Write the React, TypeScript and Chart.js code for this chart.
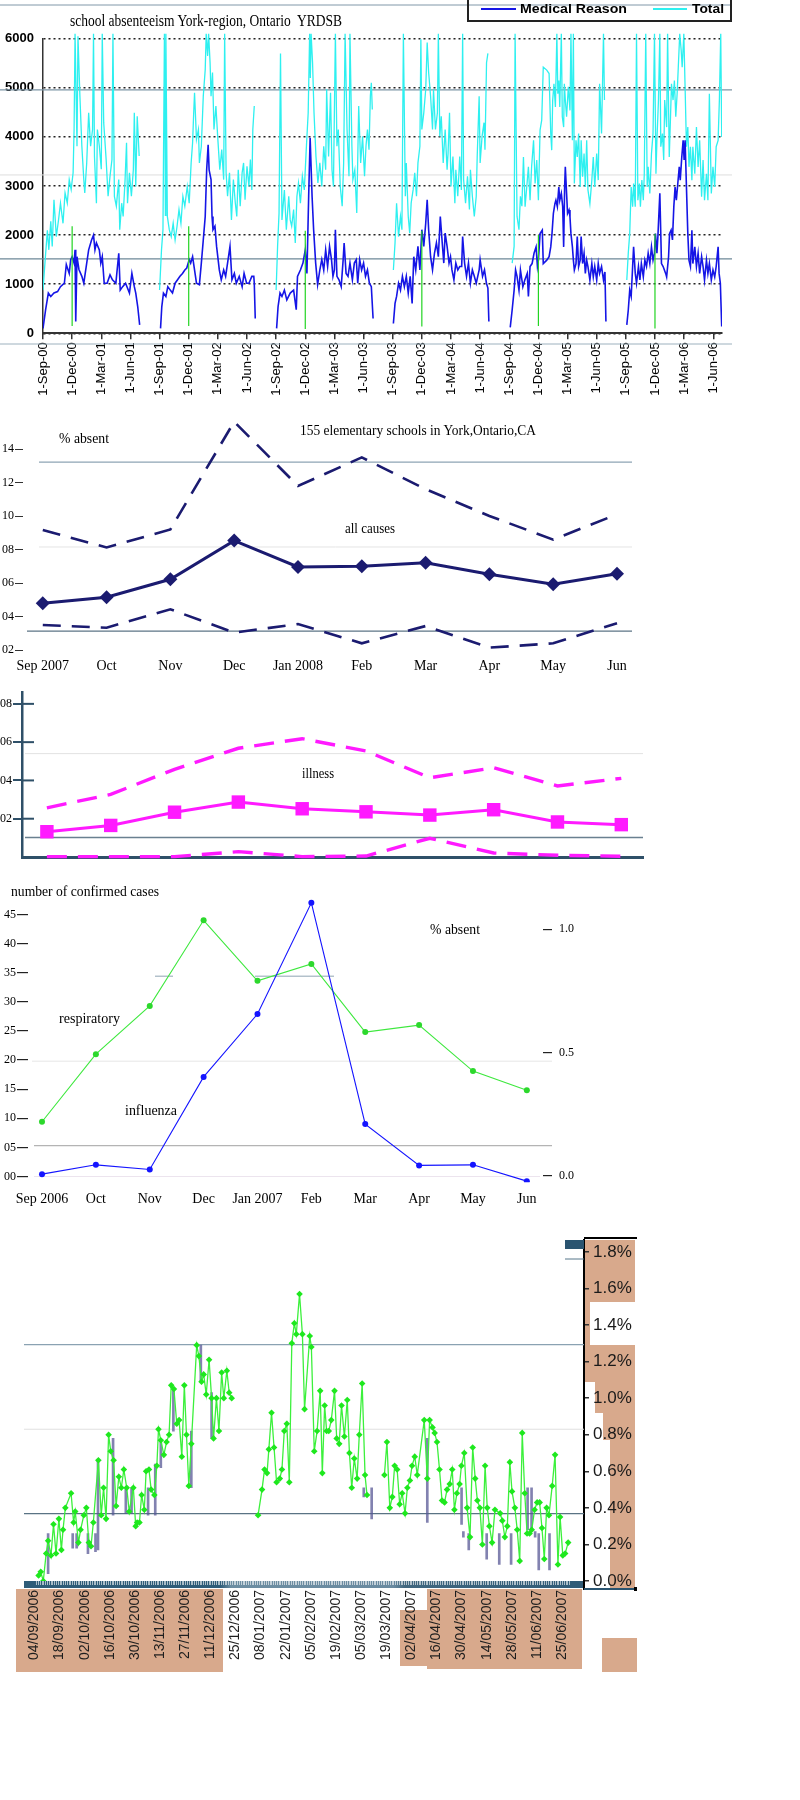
import { useEffect, useLayoutEffect, useRef } from "react"
import { Chart, registerables } from "chart.js"
import type { ChartConfiguration, Plugin } from "chart.js"

Chart.register(...registerables)

const SANS = "'Liberation Sans', Arial, sans-serif"
const SERIF = "'Liberation Serif', 'Times New Roman', serif"

// ---------- chart 1: daily absentee counts, x = months since 1 Sep 2000
const quarterLabels = [
  "1-Sep-00", "1-Dec-00", "1-Mar-01", "1-Jun-01", "1-Sep-01", "1-Dec-01", "1-Mar-02", "1-Jun-02",
  "1-Sep-02", "1-Dec-02", "1-Mar-03", "1-Jun-03", "1-Sep-03", "1-Dec-03", "1-Mar-04", "1-Jun-04",
  "1-Sep-04", "1-Dec-04", "1-Mar-05", "1-Jun-05", "1-Sep-05", "1-Dec-05", "1-Mar-06", "1-Jun-06",
]

const medical0001: [number, number][] = [
  [0, 100], [0.27, 480], [0.55, 820], [0.8, 750], [1.13, 820], [1.5, 850], [1.8, 950], [2.2, 1020], [2.4, 1400],
  [2.7, 1220], [2.85, 1500], [3.0, 1560], [3.2, 1430], [3.3, 1700], [3.37, 240], [3.5, 1560], [3.7, 1300], [4.0, 1160],
  [4.2, 1020], [4.5, 1430], [4.7, 1700], [5.0, 1900], [5.2, 2000], [5.35, 1700], [5.5, 1840], [5.8, 1700], [5.95, 1430],
  [6.1, 1560], [6.3, 1020], [6.6, 1020], [6.9, 1190], [7.15, 1090], [7.5, 1020], [7.8, 1630], [7.95, 880], [8.2, 950],
  [8.5, 1020], [8.9, 820], [9.15, 1220], [9.4, 950], [9.55, 820], [9.75, 545], [9.95, 170],
]
const total0001: [number, number][] = [
  [0, 880], [0.2, 1430], [0.45, 2100], [0.6, 1700], [0.8, 2280], [0.95, 1770], [1.13, 2720], [1.37, 1970], [1.6, 2310],
  [1.8, 2650], [2.06, 2240], [2.27, 2860], [2.5, 2650], [2.7, 3130], [2.9, 2930], [3.1, 3270], [3.2, 4150], [3.3, 6100],
  [3.5, 3810], [3.6, 6050], [3.8, 4830], [4.0, 3810], [4.2, 3130], [4.3, 2860], [4.5, 3470], [4.7, 4490], [4.9, 3810],
  [5.1, 4150], [5.2, 6100], [5.3, 3600], [5.5, 2650], [5.6, 4150], [5.8, 3810], [6.0, 3340], [6.1, 6100], [6.25, 4290],
  [6.5, 3540], [6.7, 2790], [6.9, 3200], [7.1, 3540], [7.2, 6100], [7.35, 2790], [7.55, 2590], [7.8, 3130], [7.9, 2110],
  [8.1, 2650], [8.25, 2380], [8.45, 3130], [8.6, 3880], [8.7, 2650], [8.9, 3270], [9.1, 2790], [9.3, 3330], [9.4, 4490],
  [9.55, 2990], [9.7, 4420], [9.9, 3610],
]
const medical0102: [number, number][] = [
  [12.1, 100], [12.23, 545], [12.4, 820], [12.65, 750], [12.85, 950], [13.1, 880], [13.33, 820], [13.6, 1020],
  [13.85, 1090], [14.1, 1160], [14.36, 1220], [14.6, 1290], [14.8, 1330], [15.05, 1500], [15.2, 1430], [15.4, 1560],
  [15.6, 1290], [15.8, 1020], [16.1, 990], [16.3, 1430], [16.5, 1900], [16.7, 2380], [16.85, 3330], [17.0, 3840],
  [17.1, 3330], [17.3, 3130], [17.4, 2380], [17.5, 2110], [17.7, 2180], [17.87, 1770], [18.15, 1290], [18.35, 1090],
  [18.6, 1290], [18.8, 1160], [19.0, 1430], [19.25, 1770], [19.45, 1090], [19.7, 1220], [19.9, 1020], [20.2, 1160],
  [20.5, 950], [20.7, 1220], [20.96, 1020], [21.2, 1020], [21.5, 1160], [21.7, 1160], [21.75, 1020], [21.85, 300],
]
const total0102: [number, number][] = [
  [12.0, 880], [12.2, 1700], [12.35, 2110], [12.5, 6100], [12.6, 2400], [12.65, 6100], [12.8, 2380], [13.0, 2110],
  [13.2, 1970], [13.4, 2240], [13.6, 1900], [13.8, 2180], [14.0, 2520], [14.2, 2240], [14.4, 2790], [14.6, 2590],
  [14.85, 2990], [15.05, 2650], [15.25, 3470], [15.4, 3880], [15.5, 4420], [15.6, 4900], [15.8, 3950], [16.0, 4150],
  [16.1, 3470], [16.3, 3810], [16.5, 4830], [16.7, 5370], [16.8, 6100], [16.95, 5650], [17.05, 6100], [17.2, 5510],
  [17.3, 4830], [17.45, 5310], [17.6, 4150], [17.8, 4630], [18.0, 3950], [18.2, 3330], [18.4, 3740], [18.6, 3130],
  [18.7, 6100], [18.85, 3270], [19.0, 2790], [19.2, 3270], [19.4, 2310], [19.6, 3130], [19.8, 2650], [19.95, 2380],
  [20.1, 3330], [20.3, 2590], [20.5, 3270], [20.65, 3470], [20.8, 2720], [21.0, 3400], [21.2, 2990], [21.35, 3540],
  [21.5, 2920], [21.6, 4150], [21.75, 4630],
]
const medical0203: [number, number][] = [
  [24.05, 100], [24.2, 545], [24.4, 820], [24.6, 750], [24.85, 880], [25.1, 680], [25.45, 820], [25.8, 880],
  [26.07, 480], [26.2, 1160], [26.5, 1290], [26.76, 1430], [27.0, 1700], [27.17, 1220], [27.35, 2790], [27.5, 3980],
  [27.7, 2790], [27.86, 2110], [28.07, 1430], [28.27, 990], [28.5, 1290], [28.7, 1500], [28.9, 1290], [29.1, 1700],
  [29.3, 1360], [29.5, 1770], [29.7, 1500], [29.85, 1160], [30.0, 1290], [30.1, 2110], [30.26, 1160], [30.47, 1090],
  [30.7, 950], [30.9, 1500], [31.0, 1840], [31.2, 1220], [31.4, 1160], [31.6, 1430], [31.85, 1090], [32.05, 1430],
  [32.25, 1500], [32.4, 1020], [32.6, 1500], [32.8, 1290], [33.0, 1430], [33.2, 1160], [33.4, 1290], [33.6, 1020],
  [33.8, 950], [33.98, 300],
]
const total0203: [number, number][] = [
  [24.0, 880], [24.15, 1770], [24.3, 2450], [24.45, 5700], [24.6, 2310], [24.85, 2920], [25.05, 2110], [25.3, 2790],
  [25.45, 2310], [25.6, 2180], [25.8, 2520], [25.97, 1840], [26.14, 2790], [26.3, 3060], [26.5, 2650], [26.7, 3200],
  [26.9, 2920], [27.1, 3740], [27.3, 4490], [27.45, 6100], [27.52, 5200], [27.6, 6100], [27.75, 5510], [27.9, 4490],
  [28.1, 3600], [28.3, 3060], [28.5, 3470], [28.7, 2990], [28.9, 3810], [29.1, 3330], [29.2, 4970], [29.4, 3600],
  [29.6, 4900], [29.75, 3330], [29.9, 2990], [30.1, 6100], [30.26, 3810], [30.4, 4150], [30.6, 2990], [30.8, 2590],
  [30.95, 3470], [31.1, 6100], [31.3, 4150], [31.5, 3200], [31.6, 6100], [31.8, 3810], [31.9, 3130], [32.1, 3330],
  [32.3, 2450], [32.5, 4630], [32.7, 3470], [32.9, 4010], [33.1, 3200], [33.25, 3810], [33.4, 4150], [33.56, 3740],
  [33.7, 4830], [33.8, 5100], [33.9, 4560],
]
const medical0304: [number, number][] = [
  [36.07, 200], [36.24, 610], [36.4, 750], [36.6, 1020], [36.8, 880], [37.0, 1160], [37.2, 950], [37.4, 1160],
  [37.6, 820], [37.8, 1160], [38.0, 610], [38.17, 1560], [38.37, 1290], [38.6, 1770], [38.8, 1290], [39.0, 2110],
  [39.2, 1770], [39.4, 2240], [39.55, 2720], [39.7, 2110], [39.9, 1560], [40.1, 1290], [40.3, 1630], [40.5, 1840],
  [40.7, 1560], [40.9, 2380], [41.1, 1840], [41.26, 1430], [41.4, 2040], [41.6, 1770], [41.8, 1430], [41.95, 1560],
  [42.1, 1290], [42.3, 1090], [42.5, 1430], [42.7, 1290], [42.9, 1360], [43.1, 1360], [43.2, 1970], [43.4, 1430],
  [43.6, 1160], [43.8, 1430], [44.0, 1020], [44.2, 1290], [44.4, 1160], [44.6, 1020], [44.9, 1290], [45.0, 1500],
  [45.25, 1160], [45.45, 1290], [45.65, 1020], [45.8, 920], [45.9, 240],
]
const total0304: [number, number][] = [
  [36.07, 1290], [36.24, 1840], [36.4, 2650], [36.6, 1970], [36.8, 2380], [36.95, 2110], [37.1, 6100], [37.3, 2790],
  [37.4, 3470], [37.6, 2380], [37.75, 2040], [37.9, 2650], [38.1, 2920], [38.27, 3270], [38.45, 2790], [38.6, 3470],
  [38.8, 3810], [38.9, 5990], [39.0, 4150], [39.2, 4490], [39.4, 4970], [39.55, 5920], [39.7, 5310], [39.9, 4830],
  [40.1, 4150], [40.2, 4970], [40.4, 4150], [40.6, 4490], [40.7, 6100], [40.85, 4010], [41.0, 4420], [41.2, 3470],
  [41.4, 4150], [41.6, 3330], [41.7, 3670], [41.85, 4490], [42.0, 2990], [42.2, 3600], [42.4, 2650], [42.5, 3330],
  [42.7, 2790], [42.9, 3600], [43.07, 2920], [43.2, 6100], [43.3, 3130], [43.5, 2650], [43.7, 3200], [43.9, 2520],
  [44.0, 3330], [44.2, 2790], [44.4, 2380], [44.6, 2790], [44.7, 3600], [44.9, 4830], [45.0, 3470], [45.2, 4010],
  [45.4, 4290], [45.5, 3740], [45.66, 5510], [45.8, 5700],
]
const medical0405: [number, number][] = [
  [48.1, 120], [48.3, 480], [48.5, 880], [48.65, 1290], [48.8, 1160], [49.0, 880], [49.15, 1290], [49.3, 1090],
  [49.4, 950], [49.6, 1085], [49.85, 1220], [49.97, 750], [50.14, 1360], [50.35, 1420], [50.55, 1630], [50.76, 1760],
  [50.9, 1360], [51.0, 1490], [51.17, 2030], [51.4, 2100], [51.5, 1420], [51.86, 1490], [52.1, 1560], [52.27, 1760],
  [52.4, 2030], [52.54, 2440], [52.7, 2640], [52.8, 2710], [52.95, 2580], [53.1, 2980], [53.2, 2710], [53.36, 2850],
  [53.5, 2580], [53.6, 1760], [53.7, 2980], [53.77, 3390], [53.9, 2850], [54.0, 2440], [54.15, 2510], [54.25, 2370],
  [54.35, 2030], [54.5, 1760], [54.6, 1490], [54.7, 1290], [54.87, 1420], [55.0, 1970], [55.14, 1360], [55.3, 1490],
  [55.4, 1970], [55.55, 1420], [55.7, 1630], [55.83, 1220], [55.97, 1490], [56.1, 1360], [56.3, 1085], [56.5, 1420],
  [56.65, 1150], [56.8, 1360], [57.0, 1085], [57.16, 1420], [57.3, 1220], [57.5, 1360], [57.7, 1085], [57.85, 1250],
  [57.95, 240],
]
const total0405: [number, number][] = [
  [48.3, 1430], [48.5, 1770], [48.6, 6100], [48.8, 2380], [49.0, 2110], [49.15, 2790], [49.3, 2590], [49.46, 3590],
  [49.63, 2580], [49.8, 2980], [49.97, 3390], [50.14, 2710], [50.3, 3390], [50.5, 3930], [50.66, 3050], [50.83, 3530],
  [51.0, 2710], [51.17, 4140], [51.34, 4340], [51.5, 5420], [51.86, 5360], [52.1, 5290], [52.27, 4070], [52.37, 3730],
  [52.47, 4750], [52.6, 5080], [52.75, 4610], [52.9, 6100], [53.0, 4880], [53.1, 5150], [53.2, 4610], [53.36, 6100],
  [53.46, 4410], [53.6, 4200], [53.67, 5080], [53.77, 4750], [53.9, 4410], [54.08, 5020], [54.25, 4540], [54.35, 6100],
  [54.5, 3930], [54.6, 6100], [54.7, 3050], [54.87, 3930], [55.0, 3590], [55.14, 4070], [55.3, 2980], [55.4, 3930],
  [55.55, 3190], [55.7, 3660], [55.83, 2980], [55.97, 3930], [56.1, 2920], [56.3, 2640], [56.5, 3120], [56.65, 3590],
  [56.8, 2980], [57.0, 3660], [57.16, 3120], [57.3, 5080], [57.5, 4070], [57.7, 6100], [57.8, 4750],
]
const medical0506: [number, number][] = [
  [60.1, 170], [60.25, 470], [60.4, 880], [60.55, 750], [60.7, 1360], [60.8, 1760], [60.97, 1220], [61.1, 1020],
  [61.3, 1360], [61.45, 1085], [61.6, 1420], [61.8, 1150], [61.96, 1490], [62.13, 1360], [62.3, 1630], [62.47, 1420],
  [62.64, 1760], [62.8, 1490], [62.95, 1630], [63.05, 2030], [63.2, 1630], [63.3, 1970], [63.5, 2850], [63.67, 1420],
  [63.84, 1360], [64.1, 1220], [64.2, 1150], [64.4, 1560], [64.5, 2030], [64.66, 2100], [64.8, 1900], [64.94, 2580],
  [65.07, 2980], [65.2, 2710], [65.35, 3050], [65.5, 3390], [65.6, 3120], [65.76, 3590], [65.9, 3930], [66.0, 3530],
  [66.1, 3930], [66.24, 2980], [66.38, 2030], [66.5, 1490], [66.65, 1360], [66.8, 2100], [66.9, 1420], [67.1, 1760],
  [67.27, 1360], [67.44, 1630], [67.6, 1220], [67.8, 1560], [67.95, 1360], [68.1, 1085], [68.3, 1490], [68.45, 1220],
  [68.6, 1420], [68.8, 1085], [68.97, 1290], [69.15, 1150], [69.3, 1360], [69.5, 1760], [69.6, 1220], [69.73, 1020],
  [69.87, 140],
]
const total0506: [number, number][] = [
  [60.1, 1085], [60.25, 1630], [60.4, 2030], [60.55, 2980], [60.7, 2580], [60.8, 3050], [60.97, 2580], [61.1, 6100],
  [61.24, 2710], [61.4, 3050], [61.5, 2580], [61.65, 3120], [61.8, 2710], [61.9, 3250], [62.05, 6100], [62.2, 2980],
  [62.3, 3390], [62.47, 2850], [62.64, 3660], [62.8, 4070], [62.95, 6100], [63.1, 3250], [63.2, 3930], [63.36, 4750],
  [63.5, 6100], [63.6, 3800], [63.77, 4070], [63.9, 3530], [64.0, 4750], [64.2, 4200], [64.3, 6100], [64.47, 3590],
  [64.6, 4410], [64.7, 5080], [64.86, 4750], [65.0, 5150], [65.14, 4410], [65.28, 4880], [65.4, 5420], [65.55, 6100],
  [65.7, 5760], [65.8, 5420], [65.97, 6100], [66.1, 5020], [66.24, 3800], [66.38, 4200], [66.5, 3390], [66.65, 3800],
  [66.8, 3120], [66.9, 3800], [67.1, 3250], [67.27, 4200], [67.44, 3390], [67.6, 3930], [67.8, 2780], [67.95, 3530],
  [68.1, 2710], [68.3, 3250], [68.45, 2710], [68.6, 4880], [68.8, 2850], [68.97, 3390], [69.15, 2980], [69.3, 3800],
  [69.5, 3930], [69.63, 4750], [69.77, 6100], [69.87, 4000],
]
const decFirstMonths = [3, 15, 27, 39, 51, 63]
const decMarkerTop = [2180, 2180, 2090, 2090, 2000, 2030]
const decMarkerBottom = [150, 150, 90, 140, 150, 100]

// ---------- charts 2 and 3: 155 elementary schools, 2007-08
const months0708 = ["Sep 2007", "Oct", "Nov", "Dec", "Jan 2008", "Feb", "Mar", "Apr", "May", "Jun"]
const allCauses = [4.79, 5.15, 6.22, 8.53, 6.96, 7.0, 7.21, 6.52, 5.92, 6.55]
const allCausesHigh = [9.16, 8.12, 9.2, 15.63, 11.79, 13.5, 11.6, 10.0, 8.59, 10.1]
const allCausesLow = [3.49, 3.33, 4.43, 3.04, 3.55, 2.4, 3.43, 2.14, 2.4, 3.6]
const illness = [1.32, 1.65, 2.34, 2.87, 2.52, 2.36, 2.19, 2.47, 1.83, 1.69]
const illnessHigh = [2.57, 3.27, 4.58, 5.68, 6.18, 5.54, 4.14, 4.66, 3.71, 4.11]
const illnessLow = [0.02, 0.02, 0.02, 0.28, 0.02, 0.05, 0.98, 0.21, 0.09, 0.04]

// ---------- chart 4: confirmed cases 2006-07
const months0607 = ["Sep 2006", "Oct", "Nov", "Dec", "Jan 2007", "Feb", "Mar", "Apr", "May", "Jun"]
const respiratory = [9.4, 21.0, 29.3, 44.0, 33.6, 36.5, 24.8, 26.0, 18.1, 14.8]
const influenza = [0.4, 2.0, 1.2, 17.1, 27.9, 47.0, 9.0, 1.9, 2.0, -0.8]

// ---------- chart 5: daily % absent, x = days since 04/09/2006
const dateLabels = [
  "04/09/2006", "18/09/2006", "02/10/2006", "16/10/2006", "30/10/2006", "13/11/2006", "27/11/2006", "11/12/2006",
  "25/12/2006", "08/01/2007", "22/01/2007", "05/02/2007", "19/02/2007", "05/03/2007", "19/03/2007", "02/04/2007",
  "16/04/2007", "30/04/2007", "14/05/2007", "28/05/2007", "11/06/2007", "25/06/2007",
]
const fallTerm: [number, number][] = [
  [2.3, 0.03], [3.5, 0.05], [4.9, 0.0], [6.5, 0.15], [7.6, 0.22], [9.2, 0.14], [10.6, 0.31], [12, 0.15], [13.6, 0.34],
  [15, 0.17], [15.9, 0.28], [17.2, 0.4], [20.4, 0.48], [21.8, 0.32], [22.7, 0.38], [24.5, 0.21], [25.7, 0.28],
  [27.5, 0.36], [28.9, 0.4], [30.3, 0.21], [31.5, 0.19], [32.8, 0.32], [35.6, 0.66], [37.2, 0.36], [38.5, 0.51],
  [39.9, 0.34], [41.3, 0.8], [42.5, 0.71], [44.1, 0.66], [45.5, 0.41], [47, 0.57], [48.4, 0.51], [49.8, 0.61],
  [51.4, 0.51], [52.8, 0.38], [55.1, 0.51], [56.4, 0.3], [57.2, 0.32], [58.5, 0.32], [59.7, 0.47], [61.2, 0.39],
  [62.2, 0.6], [63.8, 0.61], [65, 0.5], [66.8, 0.47], [68.2, 0.63], [69.1, 0.83], [70.4, 0.77], [72.1, 0.69],
  [73.6, 0.76], [75, 0.8], [76.2, 1.07], [77.7, 1.05], [79.3, 0.86], [80.6, 0.88], [82.1, 0.68], [83.5, 1.07],
  [84.7, 0.8], [86, 0.52], [87.4, 0.75], [90.4, 1.29], [91.6, 1.23], [93.1, 1.09], [94.3, 1.13], [95.7, 1.02],
  [97.3, 1.21], [98.7, 1.0], [99.8, 0.78], [101.4, 1.0], [102.8, 0.82], [104.3, 1.14], [105.5, 1.0], [107.2, 1.15],
  [108.5, 1.03], [109.9, 1.0],
]
const winterTerm: [number, number][] = [
  [124.6, 0.36], [126.8, 0.5], [128.2, 0.61], [129.6, 0.59], [130.6, 0.72], [132.1, 0.92], [133.5, 0.73],
  [134.9, 0.54], [136.7, 0.56], [137.9, 0.61], [139.2, 0.82], [140.6, 0.86], [142, 0.54], [143.4, 1.3], [144.8, 1.41],
  [145.9, 1.35], [147.7, 1.57], [149.3, 1.35], [150.5, 0.94], [153.4, 1.34], [154.3, 1.28], [155.9, 0.71],
  [157.5, 0.82], [159.2, 1.04], [160.4, 0.59], [161.7, 0.96], [162.8, 0.82], [164, 0.82], [165.4, 0.88],
  [167.2, 1.04], [168.4, 0.78], [169.8, 0.75], [171.1, 0.96], [172.7, 0.79], [174.3, 0.99], [175.5, 0.7],
  [176.8, 0.51], [178.2, 0.67], [179.8, 0.56], [181, 0.8], [182.6, 1.08], [184.2, 0.58], [185.3, 0.47],
]
const springTerm: [number, number][] = [
  [195, 0.58], [196.4, 0.76], [198, 0.4], [199.4, 0.46], [200.7, 0.63], [202.1, 0.61], [203.5, 0.42], [204.9, 0.48],
  [206.5, 0.37], [207.8, 0.51], [209.2, 0.55], [210.4, 0.63], [211.9, 0.68], [213.3, 0.58], [217.2, 0.88],
  [218.9, 0.56], [220.2, 0.88], [221.8, 0.84], [223, 0.81], [224.3, 0.76], [225.7, 0.61], [227.1, 0.44],
  [228.5, 0.43], [229.9, 0.5], [231.4, 0.53], [232.8, 0.61], [234, 0.39], [235.4, 0.48], [236.9, 0.53],
  [237.9, 0.63], [239.5, 0.7], [241.1, 0.4], [242.7, 0.24], [244.2, 0.73], [245.6, 0.56], [246.8, 0.44],
  [248.2, 0.4], [249.6, 0.2], [251.1, 0.63], [252.3, 0.4], [253.5, 0.3], [255, 0.21], [256.6, 0.39], [259.5, 0.37],
  [260.7, 0.33], [262.1, 0.24], [263.5, 0.3], [264.9, 0.65], [266.1, 0.49], [267.7, 0.4], [269, 0.28], [270.4, 0.11],
  [271.8, 0.81], [273.2, 0.48], [274.5, 0.26], [275.9, 0.26], [277.1, 0.28], [278.7, 0.39], [280.1, 0.43],
  [281.5, 0.43], [282.8, 0.29], [284.1, 0.12], [285.4, 0.4], [286.7, 0.36], [288.5, 0.52], [290.1, 0.69],
  [291.7, 0.09], [292.9, 0.35], [294.4, 0.14], [295.7, 0.15], [297.4, 0.21],
]
// faint bars left over from another series: [day, low, high]
const otherBars: [number, number, number][] = [
  [7.6, 0.04, 0.26], [21.3, 0.18, 0.26], [23.5, 0.18, 0.26], [29.8, 0.15, 0.26], [34, 0.16, 0.26], [35.4, 0.17, 0.66],
  [43.8, 0.36, 0.78], [50.9, 0.37, 0.51], [54.1, 0.37, 0.51], [63.3, 0.36, 0.51], [67.3, 0.36, 0.64],
  [70.4, 0.62, 0.77], [77.4, 0.82, 1.06], [87.4, 0.51, 0.82], [92.7, 1.09, 1.29], [98.7, 0.78, 1.03],
  [183.5, 0.46, 0.51], [187.9, 0.34, 0.51], [218.9, 0.32, 0.78], [238, 0.31, 0.51], [239, 0.24, 0.27],
  [242, 0.17, 0.26], [252, 0.12, 0.26], [259, 0.09, 0.26], [265.6, 0.09, 0.26], [274.8, 0.28, 0.51],
  [277, 0.28, 0.51], [279, 0.24, 0.27], [281, 0.06, 0.26], [287, 0.06, 0.26],
]

const NAVY = "#1b1b70"
const MAGENTA = "#ff1aff"
const PEACH = "#d8a98c"

const joinSegments = (segments: [number, number][][]) => {
  const points: { x: number; y: number | null }[] = []
  segments.forEach((seg, i) => {
    if (i > 0) points.push({ x: seg[0][0] - 0.01, y: null })
    seg.forEach(([x, y]) => points.push({ x, y }))
  })
  return points
}
const byIndex = (values: number[]) => values.map((y, x) => ({ x, y }))

type Rule = { v?: number; py?: number; x0: number; x1: number; color: string; width?: number; axis?: string }
const rulesPlugin = (rules: Rule[]): Plugin => ({
  id: "rules",
  beforeDatasetsDraw(chart) {
    const { ctx } = chart
    ctx.save()
    rules.forEach((r) => {
      const y = r.py ?? chart.scales[r.axis ?? "y"].getPixelForValue(r.v as number)
      ctx.strokeStyle = r.color
      ctx.lineWidth = r.width ?? 1
      ctx.beginPath()
      ctx.moveTo(r.x0, y)
      ctx.lineTo(r.x1, y)
      ctx.stroke()
    })
    ctx.restore()
  },
})

const noLegend = { legend: { display: false }, tooltip: { enabled: false } }

const chart1 = (): ChartConfiguration => ({
  type: "line",
  data: {
    datasets: [
      {
        label: "1 Dec",
        data: decFirstMonths.flatMap((m, i) => [
          { x: m, y: decMarkerBottom[i] },
          { x: m, y: decMarkerTop[i] },
          { x: m + 0.01, y: null },
        ]),
        borderColor: "#22d422",
        borderWidth: 1.2,
        pointRadius: 0,
      },
      {
        label: "Medical Reason",
        data: joinSegments([medical0001, medical0102, medical0203, medical0304, medical0405, medical0506]),
        borderColor: "#1515e6",
        borderWidth: 1.6,
        pointRadius: 0,
      },
      {
        label: "Total",
        data: joinSegments([total0001, total0102, total0203, total0304, total0405, total0506]),
        borderColor: "#2ef0f0",
        borderWidth: 1.3,
        pointRadius: 0,
        clip: { left: 0, top: 6, right: 0, bottom: 0 },
      },
    ] as any,
  },
  options: {
    responsive: false,
    animation: false,
    layout: { padding: { top: 38.7, right: 78, left: 0, bottom: 0 } },
    plugins: noLegend,
    scales: {
      x: {
        type: "linear",
        min: 0,
        max: 69.9,
        afterFit: (s: any) => { s.height = 76.7 },
        afterBuildTicks: (s: any) => { s.ticks = quarterLabels.map((_, i) => ({ value: i * 3 })) },
        ticks: {
          autoSkip: false, minRotation: 90, maxRotation: 90, padding: 3, color: "#000",
          font: { family: SANS, size: 13 },
          callback: (_v: any, i: number) => quarterLabels[i],
        },
        grid: { drawOnChartArea: false, drawTicks: true, tickLength: 6, color: "#333", lineWidth: 1.5 },
        border: { display: true, color: "#333", width: 2 },
      },
      y: {
        min: 0,
        max: 6000,
        afterFit: (s: any) => { s.width = 43 },
        ticks: {
          stepSize: 1000, padding: 9, color: "#000",
          font: { family: SANS, size: 13, weight: "bold" },
          callback: (v: any) => String(v),
        },
        grid: { drawTicks: false, color: "#222", lineWidth: 1.5 },
        border: { display: true, color: "#333", width: 1.5, dash: [2, 3] },
      },
    } as any,
  },
  plugins: [
    rulesPlugin([
      { py: 5, x0: 0, x1: 732, color: "#8097a8" },
      { v: 4958, x0: 0, x1: 732, color: "#7d95a6", width: 1.3 },
      { v: 3225, x0: 0, x1: 732, color: "#dedede" },
      { v: 1514, x0: 0, x1: 732, color: "#6d8797", width: 1.3 },
      { py: 344, x0: 0, x1: 732, color: "#9db1be" },
    ]),
  ],
})

const chart2 = (): ChartConfiguration => ({
  type: "line",
  data: {
    datasets: [
      {
        label: "all causes",
        data: byIndex(allCauses),
        borderColor: NAVY,
        borderWidth: 3,
        pointStyle: "rectRot",
        pointRadius: 7,
        pointBackgroundColor: NAVY,
        pointBorderWidth: 0,
      },
      { label: "high", data: byIndex(allCausesHigh), borderColor: NAVY, borderWidth: 2.6, borderDash: [18, 11], pointRadius: 0 },
      { label: "low", data: byIndex(allCausesLow), borderColor: NAVY, borderWidth: 2.6, borderDash: [18, 11], pointRadius: 0 },
    ],
  },
  options: {
    responsive: false,
    animation: false,
    layout: { padding: { top: 15.5, right: 168, left: 0, bottom: 0 } },
    plugins: noLegend,
    scales: {
      x: {
        type: "linear",
        min: -0.31,
        max: 9.235,
        afterFit: (s: any) => { s.height = 40 },
        afterBuildTicks: (s: any) => { s.ticks = months0708.map((_, i) => ({ value: i })) },
        ticks: {
          autoSkip: false, maxRotation: 0, padding: 8, color: "#000",
          font: { family: SERIF, size: 14 },
          callback: (_v: any, i: number) => months0708[i],
        },
        grid: { display: false, drawTicks: false },
        border: { display: false },
      },
      y: {
        min: 2,
        max: 16,
        afterFit: (s: any) => { s.width = 23 },
        afterBuildTicks: (s: any) => { s.ticks = [2, 4, 6, 8, 10, 12, 14].map((v) => ({ value: v })) },
        ticks: {
          padding: 1, color: "#000", font: { family: SERIF, size: 12 },
          callback: (v: any) => String(v).padStart(2, "0"),
        },
        grid: { drawOnChartArea: false, drawTicks: true, tickLength: 8, color: "#333" },
        border: { display: false },
      },
    } as any,
  },
  plugins: [
    rulesPlugin([
      { v: 13.22, x0: 39, x1: 632, color: "#8ea4b4", width: 1.3 },
      { v: 8.15, x0: 39, x1: 632, color: "#e4e4e4" },
      { v: 3.13, x0: 27, x1: 632, color: "#5d7586", width: 1.3 },
    ]),
  ],
})

const crossTicks: Plugin = {
  id: "crossTicks",
  afterDraw(chart) {
    const { ctx, chartArea } = chart
    const y = chart.scales.y
    ctx.save()
    ctx.strokeStyle = "#2f5068"
    ctx.lineWidth = 2
    y.ticks.forEach((t) => {
      const py = y.getPixelForValue(t.value)
      ctx.beginPath()
      ctx.moveTo(chartArea.left, py)
      ctx.lineTo(chartArea.left + 12, py)
      ctx.stroke()
    })
    ctx.restore()
  },
}

const chart3 = (): ChartConfiguration => ({
  type: "line",
  data: {
    datasets: [
      {
        label: "illness",
        data: byIndex(illness),
        borderColor: MAGENTA,
        borderWidth: 3,
        pointStyle: "rect",
        pointRadius: 9.5,
        pointBackgroundColor: MAGENTA,
        pointBorderWidth: 0,
      },
      { label: "high", data: byIndex(illnessHigh), borderColor: MAGENTA, borderWidth: 3.4, borderDash: [20, 11], pointRadius: 0 },
      { label: "low", data: byIndex(illnessLow), borderColor: MAGENTA, borderWidth: 3.4, borderDash: [20, 11], pointRadius: 0, clip: false },
    ] as any,
  },
  options: {
    responsive: false,
    animation: false,
    layout: { padding: { top: 12, right: 157, left: 0, bottom: 0 } },
    plugins: noLegend,
    scales: {
      x: {
        type: "linear",
        min: -0.39,
        max: 9.34,
        afterFit: (s: any) => { s.height = 13 },
        ticks: { display: false },
        grid: { display: false, drawTicks: false },
        border: { display: true, color: "#2f5068", width: 3 },
      },
      y: {
        min: 0,
        max: 8.62,
        afterFit: (s: any) => { s.width = 22 },
        afterBuildTicks: (s: any) => { s.ticks = [2, 4, 6, 8].map((v) => ({ value: v })) },
        ticks: {
          padding: 1, color: "#000", font: { family: SERIF, size: 12 },
          callback: (v: any) => String(v).padStart(2, "0"),
        },
        grid: { drawOnChartArea: false, drawTicks: true, tickLength: 9, color: "#2f5068", lineWidth: 2 },
        border: { display: true, color: "#2f5068", width: 2.5 },
      },
    } as any,
  },
  plugins: [
    rulesPlugin([
      { v: 1.02, x0: 25, x1: 643, color: "#6a8090", width: 1.3 },
      { v: 5.4, x0: 25, x1: 643, color: "#e2e2e2" },
    ]),
    crossTicks,
  ],
})

const chart4 = (): ChartConfiguration => ({
  type: "line",
  data: {
    datasets: [
      {
        label: "influenza",
        data: byIndex(influenza),
        borderColor: "#1414ff",
        borderWidth: 1.1,
        pointRadius: 3,
        pointBackgroundColor: "#1414ff",
        pointBorderWidth: 0,
      },
      {
        label: "respiratory",
        data: byIndex(respiratory),
        borderColor: "#3ee83e",
        borderWidth: 1.1,
        pointRadius: 3,
        pointBackgroundColor: "#2cd82c",
        pointBorderWidth: 0,
      },
    ],
  },
  options: {
    responsive: false,
    animation: false,
    layout: { padding: { top: 27, right: 217, left: 0, bottom: 0 } },
    plugins: noLegend,
    scales: {
      x: {
        type: "linear",
        min: -0.26,
        max: 9.3,
        afterFit: (s: any) => { s.height = 37.7 },
        afterBuildTicks: (s: any) => { s.ticks = months0607.map((_, i) => ({ value: i })) },
        ticks: {
          autoSkip: false, maxRotation: 0, padding: 9, color: "#000",
          font: { family: SERIF, size: 14 },
          callback: (_v: any, i: number) => months0607[i],
        },
        grid: { display: false, drawTicks: false },
        border: { display: false },
      },
      y: {
        min: -1,
        max: 48,
        afterFit: (s: any) => { s.width = 28 },
        afterBuildTicks: (s: any) => { s.ticks = [0, 5, 10, 15, 20, 25, 30, 35, 40, 45].map((v) => ({ value: v })) },
        ticks: {
          padding: 1, color: "#000", font: { family: SERIF, size: 12 },
          callback: (v: any) => String(v).padStart(2, "0"),
        },
        grid: { drawOnChartArea: false, drawTicks: true, tickLength: 11, color: "#222", lineWidth: 1.2 },
        border: { display: false },
      },
      y2: {
        position: "right",
        min: -0.027,
        max: 1.131,
        afterFit: (s: any) => { s.width = 40 },
        afterBuildTicks: (s: any) => { s.ticks = [0, 0.5, 1].map((v) => ({ value: v })) },
        ticks: {
          padding: 7, color: "#000", font: { family: SERIF, size: 12 },
          callback: (v: any) => Number(v).toFixed(1),
        },
        grid: { drawOnChartArea: false, drawTicks: true, tickLength: 9, color: "#222", lineWidth: 1.2 },
        border: { display: false },
      },
    } as any,
  },
  plugins: [
    rulesPlugin([
      { v: 0, x0: 34, x1: 540, color: "#ece4ee" },
      { v: 5.3, x0: 34, x1: 552, color: "#b4b4b4", width: 1.3 },
      { v: 19.8, x0: 32, x1: 552, color: "#e6e6e6" },
      { v: 34.4, x0: 155, x1: 173, color: "#8fa4b3" },
      { v: 34.4, x0: 255, x1: 334, color: "#8fa4b3" },
    ]),
  ],
})

const axisBand: Plugin = {
  id: "axisBand",
  afterDraw(chart) {
    const { ctx, chartArea } = chart
    const x = chart.scales.x
    const b = chartArea.bottom
    ctx.save()
    const g = ctx.createLinearGradient(24, 0, 584, 0)
    g.addColorStop(0, "#2e5c78")
    g.addColorStop(0.35, "#2e5c78")
    g.addColorStop(0.37, "#6d8ea2")
    g.addColorStop(0.66, "#6a8aa0")
    g.addColorStop(0.68, "#41677f")
    g.addColorStop(1, "#2f5b77")
    ctx.fillStyle = g
    ctx.fillRect(24, b, 584 - 24, 7)
    ctx.strokeStyle = "rgba(255,255,255,0.6)"
    ctx.lineWidth = 1
    for (let d = 1; d < 299; d++) {
      const px = Math.round(x.getPixelForValue(d)) + 0.5
      ctx.beginPath()
      ctx.moveTo(px, b)
      ctx.lineTo(px, b + 4)
      ctx.stroke()
    }
    // right axis frame pieces
    ctx.strokeStyle = "#000"
    ctx.lineWidth = 2
    ctx.beginPath()
    ctx.moveTo(chartArea.right, b)
    ctx.lineTo(chartArea.right, b + 9)
    ctx.moveTo(chartArea.right, chartArea.top - 2)
    ctx.lineTo(637, chartArea.top - 2)
    ctx.stroke()
    ctx.strokeStyle = "#2a5470"
    ctx.beginPath()
    ctx.moveTo(chartArea.right, b + 8)
    ctx.lineTo(636, b + 8)
    ctx.stroke()
    ctx.fillStyle = "#000"
    ctx.fillRect(634, b + 6, 3, 4)
    ctx.fillStyle = "#2a5470"
    ctx.fillRect(565, chartArea.top, chartArea.right - 565, 9)
    ctx.strokeStyle = "#56768a"
    ctx.lineWidth = 1
    ctx.beginPath()
    ctx.moveTo(565, chartArea.top + 19)
    ctx.lineTo(chartArea.right, chartArea.top + 19)
    ctx.stroke()
    ctx.restore()
  },
}

const chart5 = (): ChartConfiguration => ({
  type: "line",
  data: {
    datasets: [
      {
        label: "% absent",
        data: joinSegments([fallTerm, winterTerm, springTerm]),
        borderColor: "#3cf03c",
        borderWidth: 1.3,
        pointStyle: "rectRot",
        pointRadius: 3.3,
        pointBackgroundColor: "#1ee81e",
        pointBorderWidth: 0,
      },
      {
        type: "bar",
        label: "other",
        data: otherBars.map(([d, lo, hi]) => ({ x: d, y: [lo, hi] })),
        backgroundColor: "rgba(88,88,150,0.75)",
        barThickness: 2,
      },
    ] as any,
  },
  options: {
    responsive: false,
    animation: false,
    layout: { padding: { top: 15, right: 156, left: 21.7, bottom: 0 } },
    plugins: noLegend,
    scales: {
      x: {
        type: "linear",
        min: 0,
        max: 299.1,
        afterFit: (s: any) => { s.height = 104 },
        afterBuildTicks: (s: any) => { s.ticks = dateLabels.map((_, i) => ({ value: i * 14 })) },
        ticks: {
          autoSkip: false, minRotation: 90, maxRotation: 90, padding: 9, color: "#1e1e1e",
          font: { family: SANS, size: 14 },
          callback: (_v: any, i: number) => dateLabels[i],
        },
        grid: { display: false, drawTicks: false },
        border: { display: false },
      },
      y: {
        position: "right",
        min: 0,
        max: 1.865,
        afterFit: (s: any) => { s.width = 60 },
        afterBuildTicks: (s: any) => {
          s.ticks = [0, 0.2, 0.4, 0.6, 0.8, 1.0, 1.2, 1.4, 1.6, 1.8].map((v) => ({ value: v }))
        },
        ticks: {
          padding: 4, color: "#1a1a1a", font: { family: SANS, size: 17 },
          callback: (v: any) => `${Number(v).toFixed(1)}%`,
        },
        grid: { drawOnChartArea: false, drawTicks: true, tickLength: 5, color: "#333", lineWidth: 1.5 },
        border: { display: true, color: "#000", width: 2 },
      },
    } as any,
  },
  plugins: [
    rulesPlugin([
      { v: 1.293, x0: 24, x1: 584, color: "#8aa2b2", width: 1.3 },
      { v: 0.83, x0: 24, x1: 584, color: "#e0e0e0" },
      { v: 0.368, x0: 24, x1: 584, color: "#5a7384", width: 1.3 },
    ]),
    axisBand,
  ],
})

function ChartCanvas({ top, height, make }: { top: number; height: number; make: () => ChartConfiguration }) {
  const ref = useRef<HTMLCanvasElement>(null)
  useEffect(() => {
    if (!ref.current) return
    const chart = new Chart(ref.current, make())
    return () => chart.destroy()
  }, [make])
  return (
    <canvas
      ref={ref}
      width={800}
      height={height}
      style={{ position: "absolute", left: 0, top, width: 800, height }}
    />
  )
}

// text squeezed to the width it has in the picture
function FitText({ x, base, w, size, text, sans = false, bold = false }: {
  x: number; base: number; w: number; size: number; text: string; sans?: boolean; bold?: boolean
}) {
  const ref = useRef<HTMLSpanElement>(null)
  useLayoutEffect(() => {
    const el = ref.current
    if (!el) return
    el.style.transform = "none"
    const natural = el.getBoundingClientRect().width
    if (natural > 0) el.style.transform = `scaleX(${w / natural})`
  }, [w, text])
  const lead = sans ? 0.85 : 0.84
  return (
    <span
      ref={ref}
      style={{
        position: "absolute",
        left: x,
        top: base - lead * size,
        fontFamily: sans ? SANS : SERIF,
        fontSize: size,
        fontWeight: bold ? 700 : 400,
        lineHeight: 1,
        whiteSpace: "pre",
        transformOrigin: "0 0",
        color: "#000",
      }}
    >
      {text}
    </span>
  )
}

const peachPatches = [
  [584, 1240, 51, 62], [584, 1302, 6, 43], [584, 1345, 51, 37], [595, 1382, 40, 31], [603, 1413, 32, 27],
  [610, 1440, 25, 149], [602, 1638, 35, 34], [16, 1589, 207, 83], [400, 1610, 27, 56], [427, 1589, 155, 80],
]

export default function App() {
  return (
    <div style={{ position: "relative", width: 800, height: 1800, background: "#fff", overflow: "hidden" }}>
      <style>{"body{margin:0}"}</style>
      {peachPatches.map(([l, t, w, h], i) => (
        <div key={i} style={{ position: "absolute", left: l, top: t, width: w, height: h, background: PEACH }} />
      ))}
      <ChartCanvas top={0} height={410} make={chart1} />
      <ChartCanvas top={400} height={290} make={chart2} />
      <ChartCanvas top={680} height={190} make={chart3} />
      <ChartCanvas top={870} height={350} make={chart4} />
      <ChartCanvas top={1225} height={460} make={chart5} />

      {/* chart 1 title and legend */}
      <FitText x={70} base={26} w={272} size={16} text="school absenteeism York-region, Ontario  YRDSB" />
      <div style={{ position: "absolute", left: 467, top: -4, width: 265, height: 26, border: "2px solid #222", boxSizing: "border-box" }} />
      <div style={{ position: "absolute", left: 481, top: 8, width: 35, height: 2, background: "#1515e6" }} />
      <FitText x={520} base={13.3} w={107} size={13} sans bold text="Medical Reason" />
      <div style={{ position: "absolute", left: 653, top: 8, width: 34, height: 1.5, background: "#2ef0f0" }} />
      <FitText x={692} base={13.3} w={32} size={13} sans bold text="Total" />

      {/* chart 2 */}
      <FitText x={59} base={443.3} w={50} size={15} text="% absent" />
      <FitText x={300} base={436} w={236} size={14} text="155 elementary schools in York,Ontario,CA" />
      <FitText x={345} base={534} w={50} size={14} text="all causes" />

      {/* chart 3 */}
      <FitText x={302} base={778.3} w={32} size={14} text="illness" />

      {/* chart 4 */}
      <FitText x={11} base={896.7} w={148} size={14} text="number of confirmed cases" />
      <FitText x={430} base={935} w={50} size={15} text="% absent" />
      <FitText x={59} base={1023.3} w={61} size={14} text="respiratory" />
      <FitText x={125} base={1116} w={52} size={14} text="influenza" />
    </div>
  )
}
